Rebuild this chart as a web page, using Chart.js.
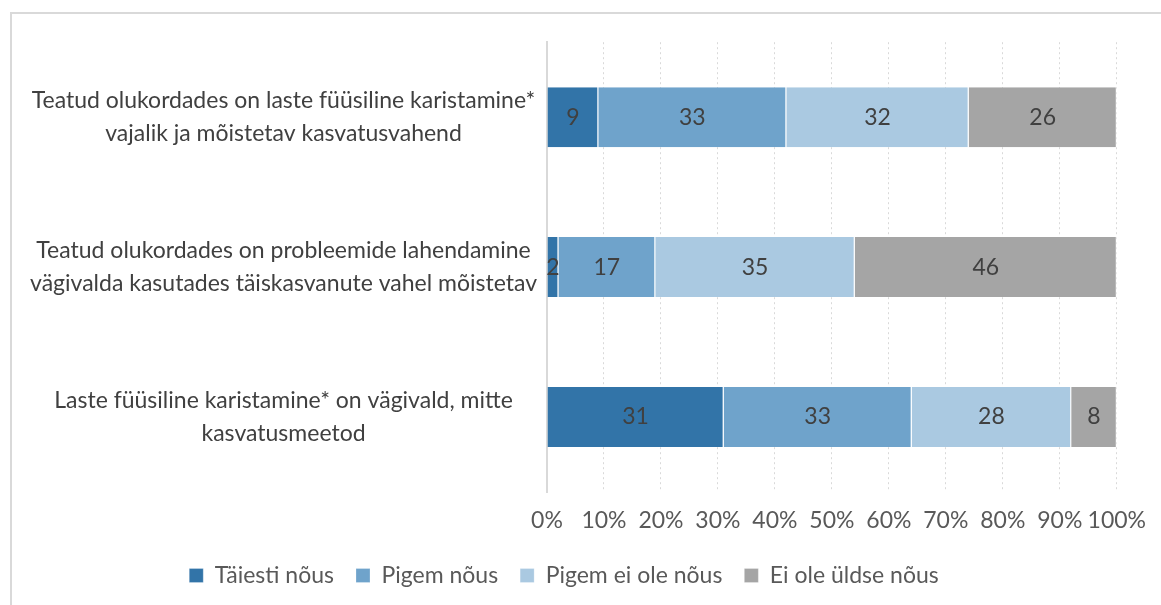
<!DOCTYPE html>
<html>
<head>
<meta charset="utf-8">
<script src="https://cdn.jsdelivr.net/npm/chart.js@4/dist/chart.umd.min.js"></script>
<style>
  html, body { margin: 0; padding: 0; background: #fff; }
  #frame {
    position: absolute; left: 10px; top: 12px; width: 1200px; height: 640px;
    border-left: 2px solid #d9d9d9; border-top: 2px solid #d9d9d9;
  }
  #wrap { position: absolute; left: 0; top: 0; width: 1161px; height: 605px; }
</style>
</head>
<body>
<div id="frame"></div>
<div id="wrap"><canvas id="chart"></canvas></div>
<script>
// statements (multi-line, as on the chart)
const statements = [
  ["Teatud olukordades on laste füüsiline karistamine*", "vajalik ja mõistetav kasvatusvahend"],
  ["Teatud olukordades on probleemide lahendamine", "vägivalda kasutades täiskasvanute vahel mõistetav"],
  ["Laste füüsiline karistamine* on vägivald, mitte", "kasvatusmeetod"]
];

// answer options, % of respondents per statement
const fullyAgree     = [9, 2, 31];
const ratherAgree    = [33, 17, 33];
const ratherDisagree = [32, 35, 28];
const notAtAll       = [26, 46, 8];

const seriesNames = ["Täiesti nõus", "Pigem nõus", "Pigem ei ole nõus", "Ei ole üldse nõus"];
const colors = ["#3274a8", "#6fa3cb", "#aac9e1", "#a5a5a5"];

const FONT = "Lato, 'Noto Sans', sans-serif";

// write the value in the middle of every segment
const segmentLabels = {
  id: "segmentLabels",
  afterDatasetsDraw(chart) {
    const ctx = chart.ctx;
    ctx.save();
    ctx.font = "23px " + FONT;
    ctx.fillStyle = "#404040";
    ctx.textAlign = "center";
    ctx.textBaseline = "middle";
    chart.data.datasets.forEach((ds, i) => {
      chart.getDatasetMeta(i).data.forEach((bar, j) => {
        const mid = (bar.x + bar.base) / 2;
        ctx.fillText(ds.data[j], mid, bar.y);
      });
    });
    ctx.restore();
  }
};

const values = [fullyAgree, ratherAgree, ratherDisagree, notAtAll];

new Chart(document.getElementById("chart"), {
  type: "bar",
  data: {
    labels: statements,
    datasets: values.map((v, i) => ({
      label: seriesNames[i],
      data: v,
      backgroundColor: colors[i],
      borderColor: "#ffffff",
      borderWidth: { left: 0, right: 1, top: 0, bottom: 0 },
      borderSkipped: false,
      categoryPercentage: 1,
      barPercentage: 0.4
    }))
  },
  options: {
    indexAxis: "y",
    responsive: true,
    maintainAspectRatio: false,
    animation: false,
    layout: { padding: { top: 42, right: 33, left: 0, bottom: 8 } },
    plugins: {
      legend: {
        position: "bottom",
        labels: {
          boxWidth: 14, boxHeight: 14, padding: 22,
          color: "#595959",
          font: { family: FONT, size: 23 }
        }
      },
      tooltip: { enabled: false }
    },
    scales: {
      x: {
        stacked: true,
        min: 0, max: 100,
        afterFit(scale) { scale.height = 50; },
        ticks: {
          stepSize: 10,
          padding: 15,
          maxRotation: 0, minRotation: 0,
          autoSkip: false,
          color: "#595959",
          font: { family: FONT, size: 23 },
          callback: v => v + "%"
        },
        grid: { color: "#d9d9d9", drawTicks: false, lineWidth: 1 },
        border: { display: false, dash: [2, 3] }
      },
      y: {
        stacked: true,
        afterFit(scale) { scale.width = 547; },
        ticks: {
          crossAlign: "center",
          padding: 10,
          color: "#404040",
          font: { family: FONT, size: 23, lineHeight: 1.4 }
        },
        grid: { display: false, drawTicks: false },
        border: { display: true, color: "#d9d9d9", width: 2 }
      }
    }
  },
  plugins: [segmentLabels]
});
</script>
</body>
</html>
